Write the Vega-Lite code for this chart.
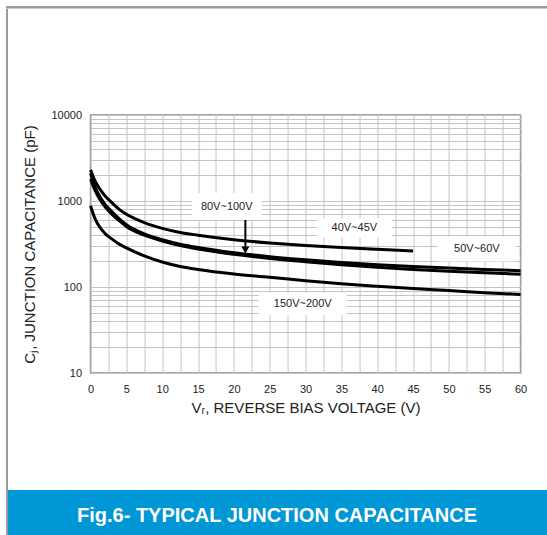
{
  "$schema": "https://vega.github.io/schema/vega-lite/v6.json",
  "background": "white",
  "padding": {"left": 6, "top": 6, "right": 0, "bottom": 0},
  "spacing": 0,
  "config": {"font": "Liberation Sans", "view": {"stroke": null}},
  "datasets": {
    "curves": [
      {"series": "40V~45V", "V": 0, "C": 2300}, {"series": "40V~45V", "V": 0.5, "C": 1800}, {"series": "40V~45V", "V": 1, "C": 1500}, {"series": "40V~45V", "V": 2, "C": 1150}, {"series": "40V~45V", "V": 3, "C": 950}, {"series": "40V~45V", "V": 4, "C": 800}, {"series": "40V~45V", "V": 5, "C": 700}, {"series": "40V~45V", "V": 7.5, "C": 560}, {"series": "40V~45V", "V": 10, "C": 480}, {"series": "40V~45V", "V": 12.5, "C": 430}, {"series": "40V~45V", "V": 15, "C": 400}, {"series": "40V~45V", "V": 20, "C": 355}, {"series": "40V~45V", "V": 25, "C": 325}, {"series": "40V~45V", "V": 30, "C": 303}, {"series": "40V~45V", "V": 35, "C": 287}, {"series": "40V~45V", "V": 40, "C": 274}, {"series": "40V~45V", "V": 45, "C": 263},
      {"series": "50V~60V", "V": 0, "C": 2100}, {"series": "50V~60V", "V": 0.5, "C": 1550}, {"series": "50V~60V", "V": 1, "C": 1250}, {"series": "50V~60V", "V": 2, "C": 920}, {"series": "50V~60V", "V": 3, "C": 750}, {"series": "50V~60V", "V": 4, "C": 620}, {"series": "50V~60V", "V": 5, "C": 530}, {"series": "50V~60V", "V": 7.5, "C": 415}, {"series": "50V~60V", "V": 10, "C": 355}, {"series": "50V~60V", "V": 12.5, "C": 315}, {"series": "50V~60V", "V": 15, "C": 288}, {"series": "50V~60V", "V": 20, "C": 250}, {"series": "50V~60V", "V": 25, "C": 225}, {"series": "50V~60V", "V": 30, "C": 207}, {"series": "50V~60V", "V": 35, "C": 193}, {"series": "50V~60V", "V": 40, "C": 182}, {"series": "50V~60V", "V": 45, "C": 173}, {"series": "50V~60V", "V": 50, "C": 166}, {"series": "50V~60V", "V": 55, "C": 160}, {"series": "50V~60V", "V": 60, "C": 155},
      {"series": "80V~100V", "V": 0, "C": 1800}, {"series": "80V~100V", "V": 0.5, "C": 1400}, {"series": "80V~100V", "V": 1, "C": 1150}, {"series": "80V~100V", "V": 2, "C": 860}, {"series": "80V~100V", "V": 3, "C": 700}, {"series": "80V~100V", "V": 4, "C": 590}, {"series": "80V~100V", "V": 5, "C": 505}, {"series": "80V~100V", "V": 7.5, "C": 400}, {"series": "80V~100V", "V": 10, "C": 342}, {"series": "80V~100V", "V": 12.5, "C": 303}, {"series": "80V~100V", "V": 15, "C": 276}, {"series": "80V~100V", "V": 20, "C": 240}, {"series": "80V~100V", "V": 25, "C": 215}, {"series": "80V~100V", "V": 30, "C": 197}, {"series": "80V~100V", "V": 35, "C": 182}, {"series": "80V~100V", "V": 40, "C": 170}, {"series": "80V~100V", "V": 45, "C": 160}, {"series": "80V~100V", "V": 50, "C": 152}, {"series": "80V~100V", "V": 55, "C": 146}, {"series": "80V~100V", "V": 60, "C": 141},
      {"series": "150V~200V", "V": 0, "C": 880}, {"series": "150V~200V", "V": 0.5, "C": 660}, {"series": "150V~200V", "V": 1, "C": 540}, {"series": "150V~200V", "V": 2, "C": 420}, {"series": "150V~200V", "V": 3, "C": 360}, {"series": "150V~200V", "V": 4, "C": 315}, {"series": "150V~200V", "V": 5, "C": 285}, {"series": "150V~200V", "V": 7.5, "C": 230}, {"series": "150V~200V", "V": 10, "C": 195}, {"series": "150V~200V", "V": 12.5, "C": 173}, {"series": "150V~200V", "V": 15, "C": 160}, {"series": "150V~200V", "V": 20, "C": 142}, {"series": "150V~200V", "V": 25, "C": 130}, {"series": "150V~200V", "V": 30, "C": 118}, {"series": "150V~200V", "V": 35, "C": 109}, {"series": "150V~200V", "V": 40, "C": 102}, {"series": "150V~200V", "V": 45, "C": 96}, {"series": "150V~200V", "V": 50, "C": 91}, {"series": "150V~200V", "V": 55, "C": 86}, {"series": "150V~200V", "V": 60, "C": 82}
    ],
    "labels": [
      {"label": "80V~100V", "V": 19.0, "C": 863},
      {"label": "40V~45V", "V": 36.8, "C": 485},
      {"label": "50V~60V", "V": 53.9, "C": 277},
      {"label": "150V~200V", "V": 29.6, "C": 63.4}
    ],
    "arrow": [
      {"label": "80V~100V", "V": 21.6, "C": 601, "C2": 284, "Ctip": 269}
    ]
  },
  "vconcat": [
    {
      "width": 600,
      "height": 2.5,
      "view": {"fill": "#9a9a9a", "stroke": null},
      "data": {"values": []},
      "mark": "point"
    },
    {
      "spacing": 0,
      "hconcat": [
        {
          "width": 2,
          "height": 600,
          "view": {"fill": "#9a9a9a", "stroke": null},
          "data": {"values": []},
          "mark": "point"
        },
        {
          "center": true,
          "spacing": 74,
          "vconcat": [
            {
              "width": 10,
              "height": 24.5,
              "data": {"values": []},
              "mark": "point"
            },
            {
              "width": 430,
              "height": 258,
              "view": {"stroke": "#888888", "strokeWidth": 1.5},
              "encoding": {
                "x": {
                  "field": "V", "type": "quantitative",
                  "scale": {"domain": [0, 60], "nice": false, "zero": false},
                  "axis": {
                    "values": [0, 2.5, 5, 7.5, 10, 12.5, 15, 17.5, 20, 22.5, 25, 27.5, 30, 32.5, 35, 37.5, 40, 42.5, 45, 47.5, 50, 52.5, 55, 57.5, 60],
                    "labelExpr": "datum.value % 5 == 0 ? format(datum.value, 'd') : ''",
                    "ticks": false, "domain": false, "grid": true, "gridColor": "#c4c4c4", "gridWidth": 1,
                    "labelFontSize": 11, "labelColor": "#222222", "labelPadding": 10, "labelFlush": false, "labelOverlap": false,
                    "title": "Vᵣ, REVERSE BIAS VOLTAGE (V)", "titleFontSize": 15, "titleFontWeight": "normal", "titleColor": "#222222", "titlePadding": 6
                  }
                },
                "y": {
                  "field": "C", "type": "quantitative",
                  "scale": {"type": "log", "domain": [10, 10000], "nice": false},
                  "axis": {
                    "values": [10, 20, 30, 40, 50, 60, 70, 80, 90, 100, 200, 300, 400, 500, 600, 700, 800, 900, 1000, 2000, 3000, 4000, 5000, 6000, 7000, 8000, 9000, 10000],
                    "labelExpr": "(datum.value == 10 || datum.value == 100 || datum.value == 1000 || datum.value == 10000) ? format(datum.value, 'd') : ''",
                    "ticks": false, "domain": false, "grid": true, "gridColor": "#c4c4c4", "gridWidth": 1,
                    "labelFontSize": 11, "labelColor": "#222222", "labelPadding": 9, "labelFlush": false, "labelOverlap": false,
                    "title": "Cⱼ, JUNCTION CAPACITANCE (pF)", "titleFontSize": 15, "titleFontWeight": "normal", "titleColor": "#222222", "titlePadding": 13
                  }
                }
              },
              "layer": [
                {
                  "data": {"name": "labels"},
                  "mark": {"type": "point", "filled": true, "fill": "white", "opacity": 1, "strokeWidth": 0},
                  "encoding": {
                    "shape": {
                      "field": "label", "type": "nominal", "legend": null,
                      "scale": {
                        "domain": ["80V~100V", "40V~45V", "50V~60V", "150V~200V"],
                        "range": ["M-35,-13.5H35V13.5H-35Z", "M-37.5,-9.5H37.5V9.5H-37.5Z", "M-39,-12.5H39V12.5H-39Z", "M-44,-11H44V11H-44Z"]
                      }
                    },
                    "size": {"value": 4}
                  }
                },
                {
                  "data": {"name": "curves"},
                  "mark": {"type": "line", "color": "black", "strokeWidth": 3, "interpolate": "monotone"},
                  "encoding": {"detail": {"field": "series", "type": "nominal"}}
                },
                {
                  "data": {"name": "arrow"},
                  "mark": {"type": "rule", "color": "black", "strokeWidth": 2},
                  "encoding": {"y2": {"field": "C2"}}
                },
                {
                  "data": {"name": "arrow"},
                  "mark": {"type": "point", "shape": "triangle-down", "filled": true, "color": "black", "opacity": 1},
                  "encoding": {"y": {"field": "Ctip", "type": "quantitative"}, "size": {"value": 64}}
                },
                {
                  "data": {"name": "labels"},
                  "mark": {"type": "text", "fontSize": 11, "color": "#222222"},
                  "encoding": {"text": {"field": "label"}}
                }
              ]
            },
            {
              "width": 602,
              "height": 46,
              "view": {"fill": "#0097d7", "stroke": null},
              "data": {"values": [{"t": "Fig.6- TYPICAL JUNCTION CAPACITANCE"}]},
              "mark": {"type": "text", "color": "white", "fontSize": 20, "fontWeight": "bold", "dx": -32, "dy": 3},
              "encoding": {"text": {"field": "t"}}
            }
          ]
        }
      ]
    }
  ]
}
